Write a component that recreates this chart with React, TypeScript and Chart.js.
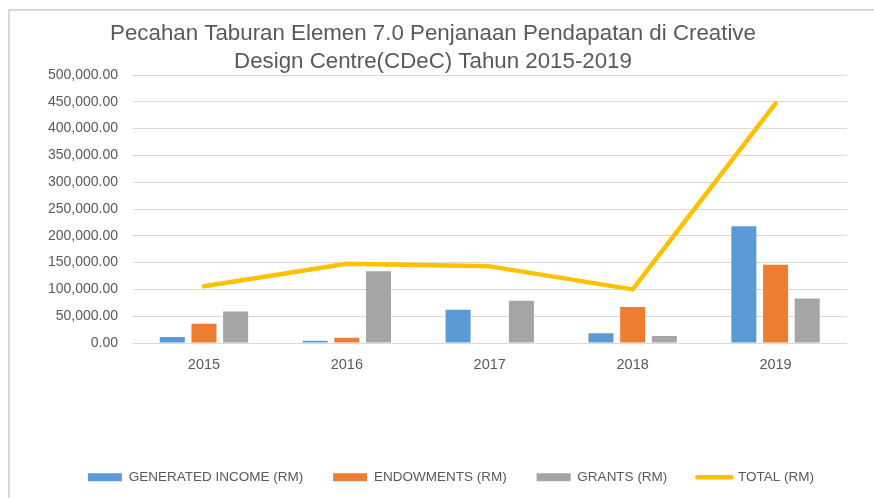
import React, { useEffect, useRef } from 'react';
import { Chart, registerables } from 'chart.js';

Chart.register(...registerables);

const years = ['2015', '2016', '2017', '2018', '2019'];
const generatedIncome = [11000, 4000, 62000, 18000, 218000];
const endowments = [36000, 10000, 0, 67000, 146000];
const grants = [59000, 134000, 79000, 13000, 83000];
const total = [106000, 148000, 143000, 100000, 447000];

const seriesNames = ['GENERATED INCOME (RM)', 'ENDOWMENTS (RM)', 'GRANTS (RM)', 'TOTAL (RM)'];
const titleLines = [
  'Pecahan Taburan Elemen 7.0 Penjanaan Pendapatan di Creative',
  'Design Centre(CDeC) Tahun 2015-2019',
];

const BLUE = '#5B9BD5';
const ORANGE = '#ED7D31';
const GREY = '#A5A5A5';
const GOLD = '#FFC000';
const TEXT = '#595959';
const GRID = '#D9D9D9';
const SANS = '"Liberation Sans", Arial, sans-serif';

export default function App() {
  const ref = useRef<HTMLCanvasElement>(null);

  useEffect(() => {
    document.body.style.margin = '0';
    const canvas = ref.current;
    if (!canvas) return;

    const framePlugin = {
      id: 'frameAndTitle',
      afterLayout(chart: any) {
        const lg = chart.legend;
        if (lg) {
          lg.left += 27.5;
          lg.right += 27.5;
        }
      },
      beforeDraw(chart: any) {
        const { ctx } = chart;
        ctx.save();
        ctx.strokeStyle = GRID;
        ctx.lineWidth = 2;
        ctx.beginPath();
        ctx.moveTo(9, chart.height);
        ctx.lineTo(9, 10);
        ctx.lineTo(chart.width, 10);
        ctx.stroke();
        ctx.restore();
      },
      afterDraw(chart: any) {
        const { ctx } = chart;
        ctx.save();
        ctx.fillStyle = TEXT;
        ctx.font = `22.3px ${SANS}`;
        ctx.textAlign = 'center';
        ctx.textBaseline = 'middle';
        const cx = chart.width / 2 - 4;
        titleLines.forEach((line, i) => ctx.fillText(line, cx, 33.5 + i * 28));
        ctx.restore();
      },
    };

    const chart = new Chart(canvas, {
      type: 'bar',
      data: {
        labels: years,
        datasets: [
          { label: seriesNames[0], data: generatedIncome, backgroundColor: BLUE, order: 1, categoryPercentage: 0.665, barPercentage: 0.79 },
          { label: seriesNames[1], data: endowments, backgroundColor: ORANGE, order: 1, categoryPercentage: 0.665, barPercentage: 0.79 },
          { label: seriesNames[2], data: grants, backgroundColor: GREY, order: 1, categoryPercentage: 0.665, barPercentage: 0.79 },
          {
            type: 'line',
            label: seriesNames[3],
            data: total,
            borderColor: GOLD,
            backgroundColor: GOLD,
            borderWidth: 4.5,
            pointRadius: 0,
            pointHoverRadius: 0,
            tension: 0,
            fill: false,
            borderCapStyle: 'round',
            borderJoinStyle: 'round',
            order: 0,
          } as any,
        ],
      },
      options: {
        responsive: false,
        animation: false,
        events: [],
        layout: { padding: { left: 0, right: 27, top: 75, bottom: 4 } },
        scales: {
          x: {
            grid: { display: false, drawTicks: false },
            border: { display: false },
            ticks: { color: TEXT, font: { family: SANS, size: 14.5 }, padding: 13 },
            afterFit: (s: any) => { s.height = 97.5; },
          },
          y: {
            min: 0,
            max: 500000,
            grid: { color: GRID, lineWidth: 1, drawTicks: false },
            border: { display: false },
            ticks: {
              stepSize: 50000,
              color: TEXT,
              font: { family: SANS, size: 14 },
              padding: 14.5,
              callback: (v: any) => Number(v).toLocaleString('en-US', { minimumFractionDigits: 2, maximumFractionDigits: 2 }),
            },
            afterFit: (s: any) => { s.width = 132.5; },
          },
        },
        plugins: {
          title: { display: false },
          tooltip: { enabled: false },
          legend: {
            position: 'bottom',
            labels: {
              usePointStyle: true,
              pointStyleWidth: 34,
              boxHeight: 8,
              padding: 30,
              color: TEXT,
              font: { family: SANS, size: 13.5 },
              sort: (a: any, b: any) => a.datasetIndex - b.datasetIndex,
              generateLabels: (c: any) => {
                const items = (Chart.defaults as any).plugins.legend.labels.generateLabels(c);
                return items.map((it: any) => {
                  const ds: any = c.data.datasets[it.datasetIndex];
                  if (ds.type === 'line') {
                    return { ...it, pointStyle: 'line', lineWidth: 4.5, strokeStyle: GOLD, fillStyle: GOLD, lineCap: 'round' };
                  }
                  return { ...it, pointStyle: 'rect', lineWidth: 0 };
                });
              },
            },
          },
        },
      },
      plugins: [framePlugin],
    });

    return () => chart.destroy();
  }, []);

  return <canvas ref={ref} width={874} height={498} style={{ display: 'block', width: 874, height: 498 }} />;
}
